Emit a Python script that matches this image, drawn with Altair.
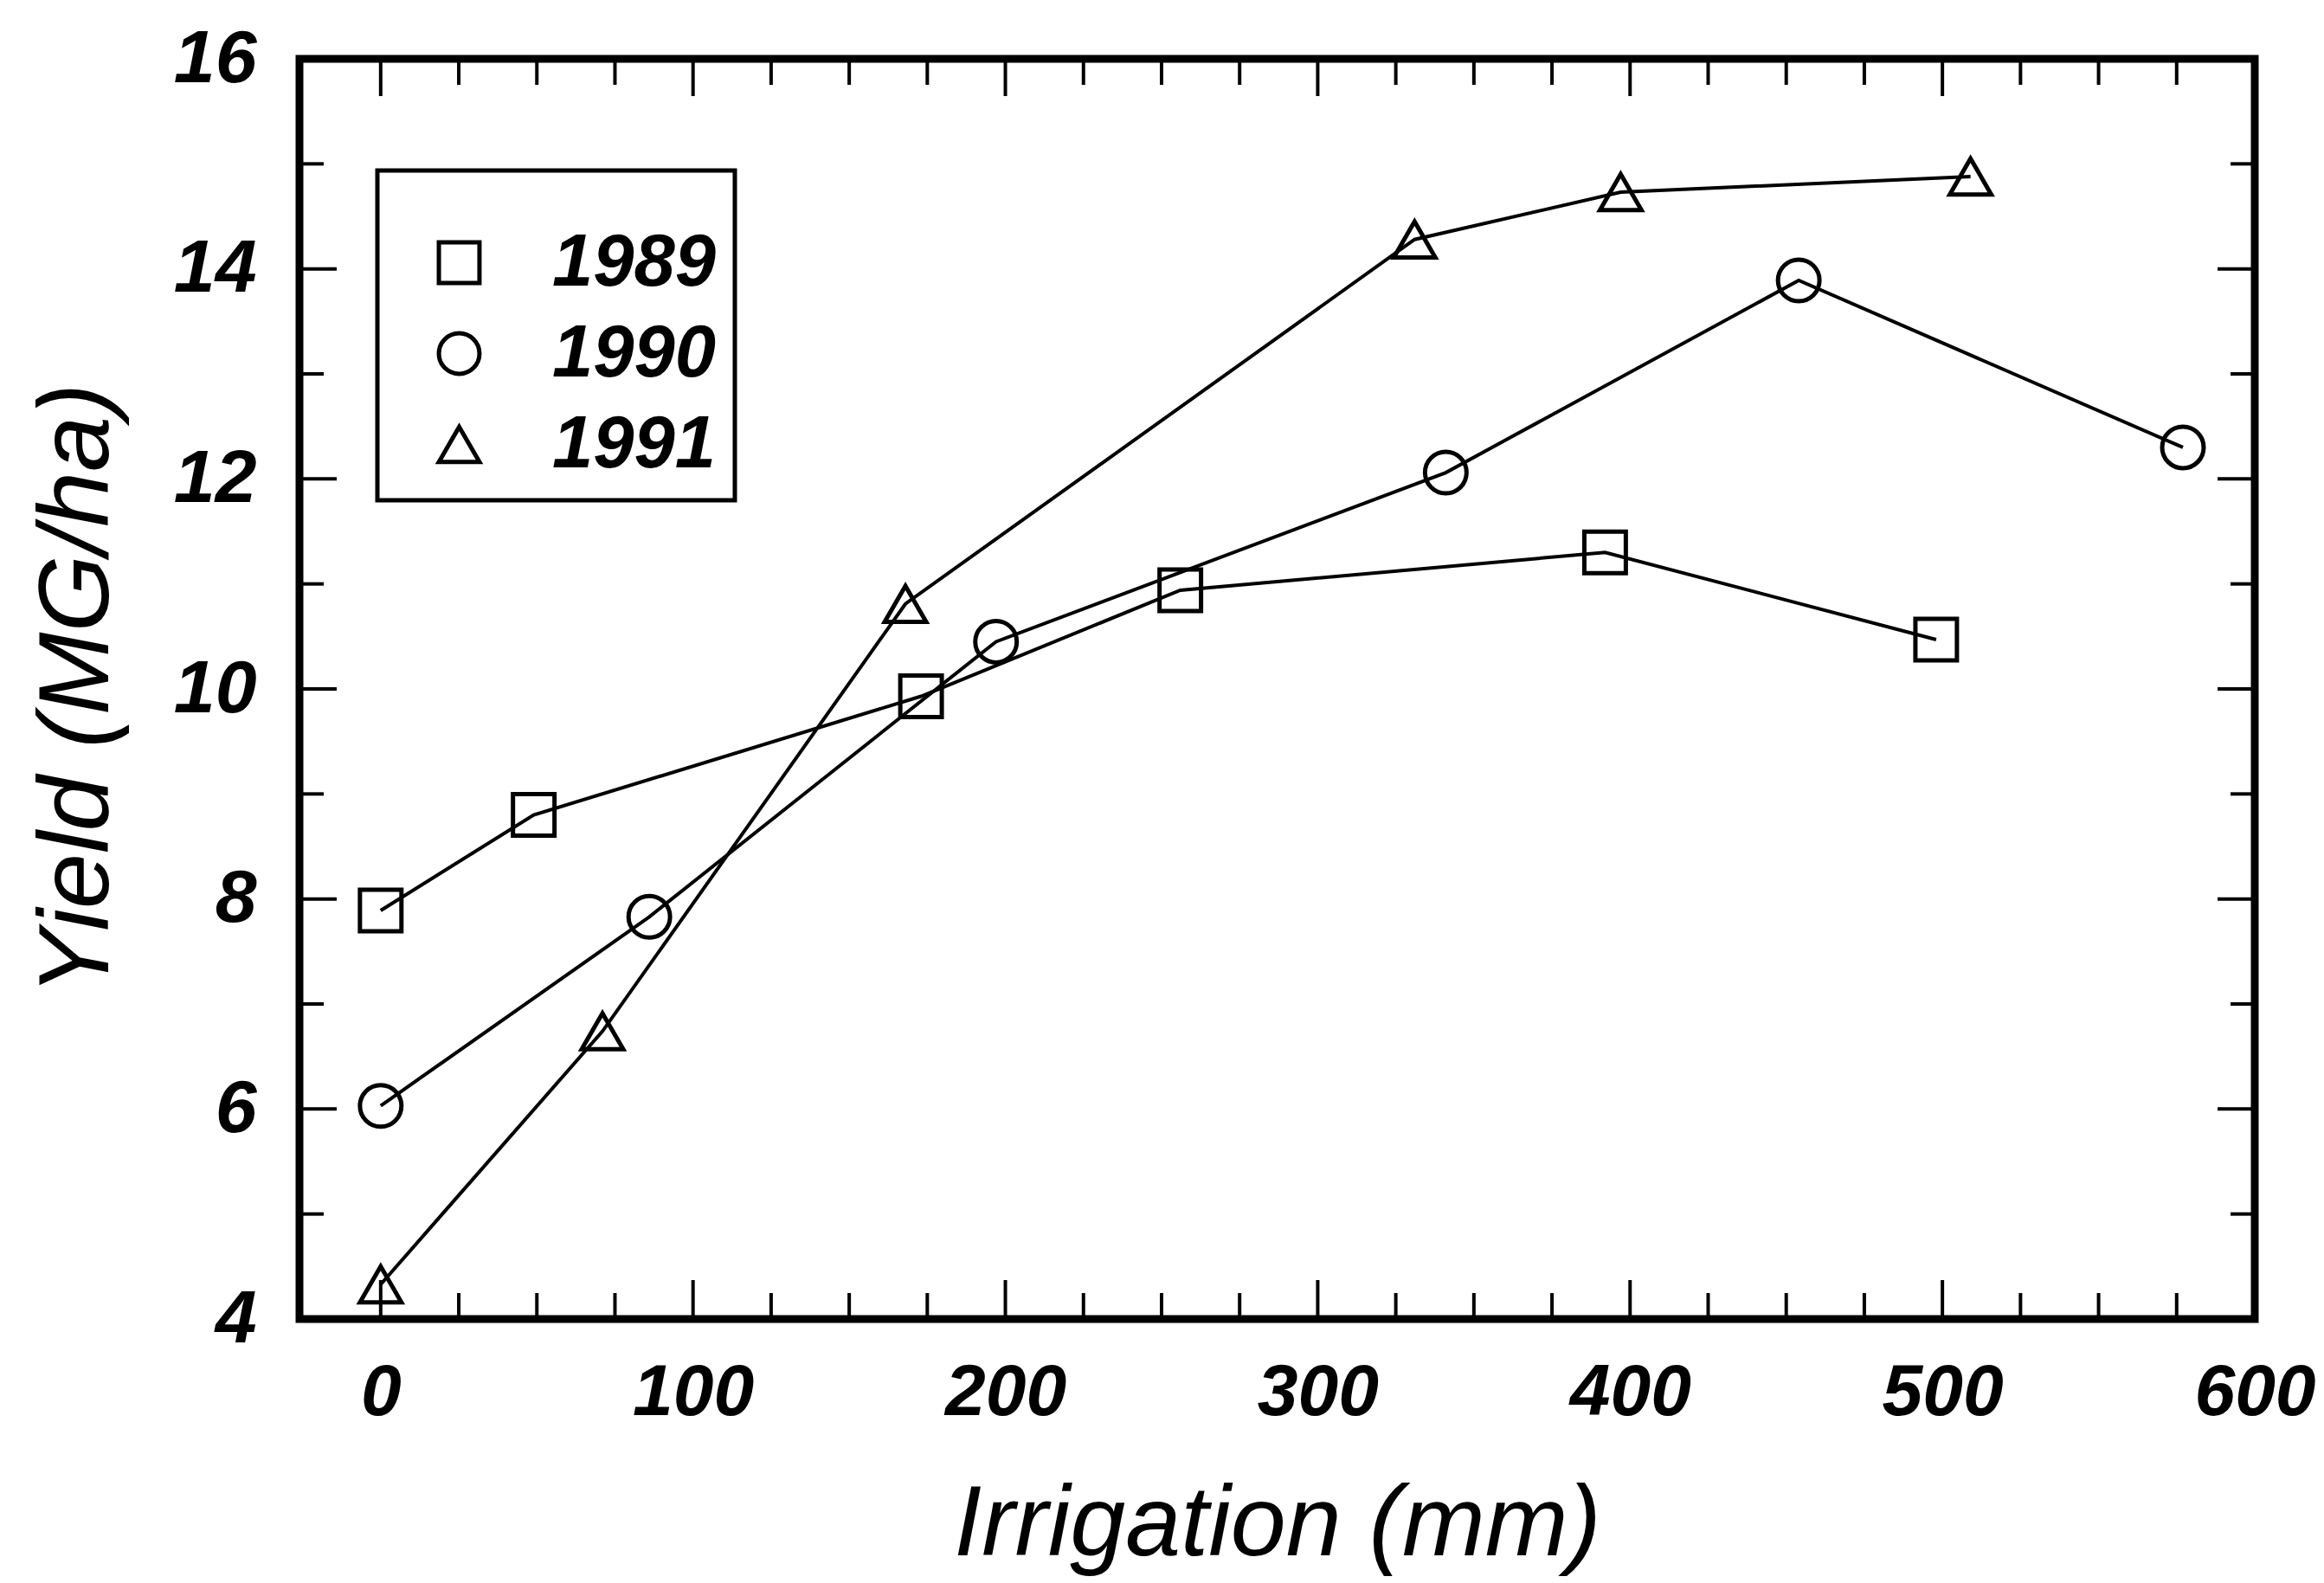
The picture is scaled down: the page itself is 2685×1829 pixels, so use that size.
import altair as alt
import pandas as pd

# ---- data ----
years = ["1989", "1990", "1991"]
irr_1989 = [0, 49, 173, 256, 392, 498]
yield_1989 = [7.89, 8.80, 9.93, 10.94, 11.30, 10.47]
irr_1990 = [0, 86, 197, 341, 454, 577]
yield_1990 = [6.03, 7.83, 10.45, 12.06, 13.89, 12.30]
irr_1991 = [0, 71, 168, 331, 397, 509]
yield_1991 = [4.33, 6.74, 10.81, 14.28, 14.73, 14.88]
shapes = ["square", "circle", "triangle-up"]

x_major = [0, 100, 200, 300, 400, 500, 600]
x_minor = [25, 50, 75, 125, 150, 175, 225, 250, 275, 325, 350, 375,
           425, 450, 475, 525, 550, 575]
y_major = [4, 6, 8, 10, 12, 14, 16]
y_minor = [5, 7, 9, 11, 13, 15]
x_domain = [-26, 600]
y_domain = [4, 16]

W, H = 2259, 1456
FONT = "Liberation Sans"

rows = []
for yr, xs_, ys_ in zip(years, [irr_1989, irr_1990, irr_1991],
                        [yield_1989, yield_1990, yield_1991]):
    for a, b in zip(xs_, ys_):
        rows.append({"year": yr, "irrigation": a, "yield": b})
df = pd.DataFrame(rows)

xs = alt.Scale(domain=x_domain, nice=False, zero=False)
ys = alt.Scale(domain=y_domain, nice=False, zero=False)

x_axis = alt.Axis(values=x_major, format="d", domain=False, ticks=False, grid=False,
                  labelPadding=110, labelBaseline="alphabetic", labelFlush=False,
                  labelOverlap=False, labelFont=FONT, labelFontSize=84,
                  labelFontStyle="italic", labelFontWeight="bold", labelColor="black",
                  title="Irrigation (mm)", titleFont=FONT, titleFontSize=115,
                  titleFontStyle="italic", titleFontWeight="normal", titleColor="black",
                  titleBaseline="alphabetic", titleY=272)
y_axis = alt.Axis(values=y_major, format="d", domain=False, ticks=False, grid=False,
                  labelPadding=50, labelFlush=False, labelOverlap=False,
                  labelFont=FONT, labelFontSize=86, labelFontStyle="italic",
                  labelFontWeight="bold", labelColor="black",
                  title="Yield (MG/ha)", titleFont=FONT, titleFontSize=115,
                  titleFontStyle="italic", titleFontWeight="normal", titleColor="black",
                  titleBaseline="alphabetic", titleAngle=270, titleX=-222, titleY=H / 2)

X = alt.X("irrigation:Q", scale=xs, axis=x_axis)
Y = alt.Y("yield:Q", scale=ys, axis=y_axis)

lines = alt.Chart(df).mark_line(color="black", strokeWidth=4).encode(
    x=X, y=Y, detail="year:N",
)

points = alt.Chart(df).mark_point(filled=False, color="black", strokeWidth=5,
                                  size=2300, opacity=1).encode(
    x=X, y=Y,
    shape=alt.Shape("year:N", scale=alt.Scale(domain=years, range=shapes),
                    legend=alt.Legend(orient="none", legendX=90, legendY=129,
                                      title=" ", titleFontSize=30, titlePadding=13,
                                      padding=21, symbolOffset=31, labelOffset=65,
                                      rowPadding=19, labelFont=FONT, labelFontSize=85,
                                      labelFontStyle="italic", labelFontWeight="bold",
                                      labelColor="black",
                                      labelExpr="datum.label + '\u00a0\u00a0'",
                                      labelLimit=600,
                                      strokeColor="black", symbolSize=2200,
                                      symbolStrokeWidth=5, symbolStrokeColor="black",
                                      symbolFillColor="transparent")),
)


def xticks(vals, length, top):
    y0 = 0 if top else H
    y1 = length if top else H - length
    return alt.Chart(pd.DataFrame({"irrigation": vals})).mark_rule(
        color="black", strokeWidth=4).encode(
        x=X, y=alt.value(y0), y2=alt.value(y1))


def yticks(vals, length, right):
    x0 = W if right else 0
    x1 = W - length if right else length
    return alt.Chart(pd.DataFrame({"yield": vals})).mark_rule(
        color="black", strokeWidth=4).encode(
        y=Y, x=alt.value(x0), x2=alt.value(x1))


ticks = [xticks(x_major, 45, False), xticks(x_minor, 30, False),
         xticks(x_major, 43, True), xticks(x_minor, 30, True),
         yticks(y_major, 43, False), yticks(y_minor, 28, False),
         yticks(y_major, 43, True), yticks(y_minor, 28, True)]

chart = alt.layer(lines, points, *ticks).properties(
    width=W, height=H,
    autosize=alt.AutoSizeParams(type="none"),
    padding={"left": 338, "top": 60, "right": 72, "bottom": 297},
    background="white",
).configure_view(stroke="black", strokeWidth=9).configure_legend(strokeWidth=5)

chart.save("out.html", embed_options={"renderer": "svg", "actions": False})
